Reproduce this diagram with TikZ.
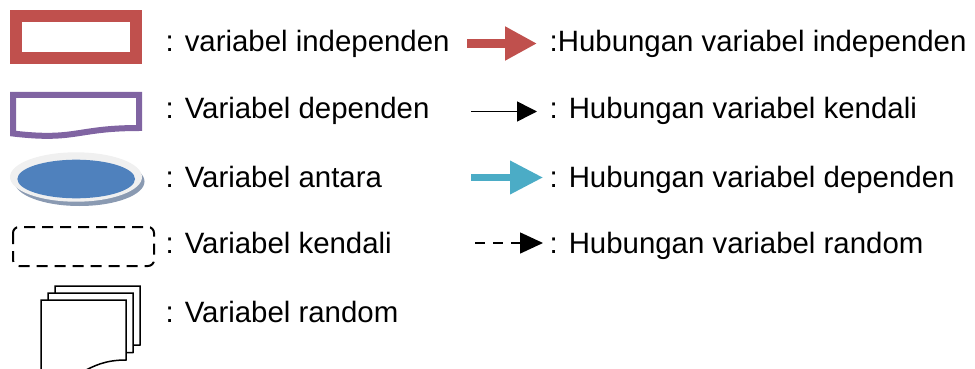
\documentclass[tikz,border=0pt]{standalone}
\usepackage{fontspec}
\setmainfont{Liberation Sans}
\usetikzlibrary{arrows.meta}
\definecolor{indred}{HTML}{C0504D}
\definecolor{deppurple}{HTML}{8064A2}
\definecolor{antblue}{HTML}{4F81BD}
\definecolor{depcyan}{HTML}{4BACC6}
\definecolor{shadowblue}{HTML}{8A9AB2}
\definecolor{lightrim}{HTML}{F0F0F0}
\begin{document}
\begin{tikzpicture}[x=1pt,y=-1pt,
  lbl/.style={anchor=base west, inner sep=0pt, font=\fontsize{29.4}{34}\selectfont},
  page/.style={draw=black, line width=1.5pt, fill=white, line join=miter}]
\useasboundingbox (0,0) rectangle (975,369);

% independent variable box
\draw[indred, line width=12pt] (16,16) rectangle (136,58);
% dependent variable (document shape)
\draw[deppurple, line width=6pt, line join=miter]
  (13,95) -- (139,95) -- (139,128)
  .. controls (76,128) and (76,141) .. (13,133.5) -- cycle;
% intervening variable (ellipse)
\fill[shadowblue] (79.5,181.5) ellipse [x radius=65, y radius=24.5];
\fill[lightrim] (76,177) ellipse [x radius=66, y radius=24.7];
\fill[antblue] (76.2,179) ellipse [x radius=58.8, y radius=19.3];
% control variable (dashed)
\draw[line width=2pt, dash pattern=on 11pt off 7pt, rounded corners=6pt]
  (13,227) rectangle (154,266);
% random variable (multi document)
\draw[page] (55,286) -- (140,286) -- (140,345) .. controls (97,345) and (97,370) .. (55,362) -- cycle;
\draw[page] (48,293) -- (133,293) -- (133,352.5) .. controls (90,352.5) and (90,378) .. (48,369) -- cycle;
\draw[page] (41,300) -- (126,300) -- (126,360) .. controls (83,360) and (83,385) .. (41,376) -- cycle;

% left labels
\node[lbl] (l1) at (165.5,52) {: variabel independen};
\node[lbl] (l2) at (165.5,118) {: Variabel dependen};
\node[lbl] (l3) at (165.5,187) {: Variabel antara};
\node[lbl] (l4) at (165.5,253) {: Variabel kendali};
\node[lbl] (l5) at (165.5,322) {: Variabel random};

% arrows
\coordinate (a1s) at (467,43.5); \coordinate (a1e) at (537,43.5);
\coordinate (a2s) at (471,111.5); \coordinate (a2e) at (537,111.5);
\coordinate (a3s) at (471,177.5); \coordinate (a3e) at (543,177.5);
\coordinate (a4s) at (475,243); \coordinate (a4e) at (543,243);
\draw[indred, line width=9pt, -{Triangle[length=32pt,width=32pt]}] (a1s) -- (a1e);
\draw[black, line width=1.5pt, -{Triangle[length=20pt,width=20pt]}] (a2s) -- (a2e);
\draw[depcyan, line width=7pt, -{Triangle[length=33pt,width=32pt]}] (a3s) -- (a3e);
\draw[black, line width=1.5pt, dash pattern=on 10pt off 8pt, -{Triangle[length=23pt,width=21pt]}] (a4s) -- (a4e);

% right labels
\node[lbl] (r1) at (549.5,52) {:Hubungan variabel independen};
\node[lbl] (r2) at (549.5,118) {: Hubungan variabel kendali};
\node[lbl] (r3) at (549.5,187) {: Hubungan variabel dependen};
\node[lbl] (r4) at (549.5,253) {: Hubungan variabel random};
\end{tikzpicture}
\end{document}
